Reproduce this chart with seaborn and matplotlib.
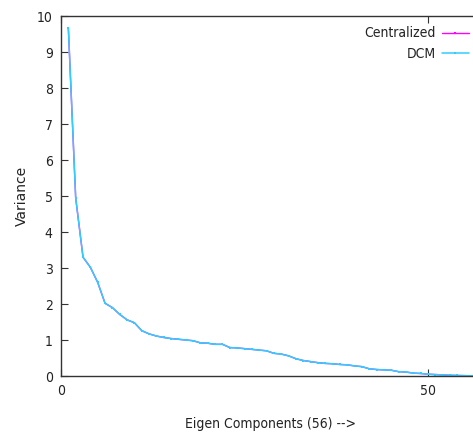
import matplotlib
matplotlib.use("Agg")
import matplotlib.pyplot as plt
import seaborn as sns
import pandas as pd
import numpy as np

components = list(range(1, 57))
dcm_variance = [9.67, 4.95, 3.30, 3.02, 2.60, 2.02, 1.90, 1.71, 1.56, 1.48,
                1.26, 1.17, 1.11, 1.07, 1.04, 1.02, 1.00, 0.98, 0.92, 0.91,
                0.88, 0.88, 0.79, 0.78, 0.76, 0.74, 0.72, 0.70, 0.63, 0.61,
                0.56, 0.48, 0.43, 0.40, 0.37, 0.35, 0.34, 0.32, 0.31, 0.28,
                0.26, 0.20, 0.18, 0.17, 0.16, 0.12, 0.11, 0.08, 0.07, 0.05,
                0.04, 0.03, 0.02, 0.015, 0.01, 0.005]
centralized_variance = list(dcm_variance)
series_names = ["Centralized", "DCM"]
x_ticks = [0, 50]
y_ticks = list(range(0, 11))

df = pd.DataFrame({
    "component": components * 2,
    "variance": centralized_variance + dcm_variance,
    "series": ["Centralized"] * len(components) + ["DCM"] * len(components),
})

sns.set_style("white")
plt.rcParams["font.family"] = ["DejaVu Sans"]

fig = plt.figure(figsize=(4.73, 4.37), dpi=100)
AX_W = 501.4 - 61
ax = fig.add_axes([61 / 473, 61 / 437, AX_W / 473, 360 / 437])

palette = {"Centralized": "#ff00ff", "DCM": "#33ccff"}
sizes = {"Centralized": 1.0, "DCM": 1.1}
for name in series_names:
    sub = df[df["series"] == name]
    sns.lineplot(data=sub, x="component", y="variance", ax=ax,
                 color=palette[name], linewidth=sizes[name],
                 marker="s", markersize=2, markeredgewidth=0,
                 label=name)

ax.set_xlim(0, 60)
ax.set_ylim(0, 10)
ax.set_xticks(x_ticks)
ax.set_yticks(y_ticks)
ax.tick_params(direction="in", length=5, width=0.8, color="#333333",
               labelsize=10, top=True, right=True, left=True, bottom=True,
               pad=6)
for lab in ax.get_xticklabels() + ax.get_yticklabels():
    lab.set_fontstretch("condensed")
    lab.set_color("#222222")
for sp in ax.spines.values():
    sp.set_color("#333333")
    sp.set_linewidth(1.0)

ax.set_xlabel("")
ax.set_ylabel("")
fig.text(270 / 473, 1 - 424 / 437, "Eigen Components (56) -->", fontsize=10,
         fontstretch="condensed", color="#222222", ha="center", va="center")
fig.text(22 / 473, 1 - 196 / 437, "Variance", fontsize=10, rotation=90,
         color="#222222", ha="center", va="center")

leg = ax.legend(loc="upper right",
                bbox_to_anchor=((470 - 61) / AX_W, (376 - 25) / 360),
                frameon=False, markerfirst=False,
                prop={"stretch": "condensed", "size": 10},
                handlelength=1.9, handletextpad=0.45, labelspacing=0.45,
                borderaxespad=0.0, borderpad=0.1)
for t in leg.get_texts():
    t.set_color("#222222")

fig.savefig("out.png", dpi=100)
